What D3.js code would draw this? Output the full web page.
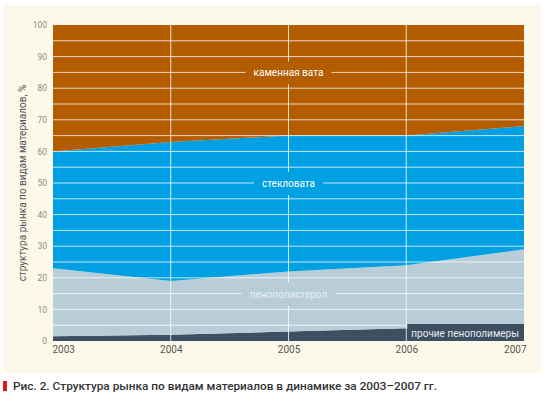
<!DOCTYPE html>
<html><head><meta charset="utf-8">
<script src="https://cdn.jsdelivr.net/npm/d3@7"></script>
<style>body{margin:0;background:#fff}</style></head>
<body><svg id="c" width="547" height="400"></svg>
<script>
const years = [2003, 2004, 2005, 2006, 2007];
const other = [1.5, 2, 3, 4, 4];
const eps = [21.5, 17, 19, 20, 25];
const glass = [37, 44, 43, 41, 39];
const stone = [40, 37, 35, 35, 32];
const seriesNames = ["прочие пенополимеры", "пенополистерол", "стекловата", "каменная вата"];
const yTicks = d3.range(0, 101, 10);

const svg = d3.select("#c");
svg.append("rect").attr("x", 3).attr("y", 5).attr("width", 538).attr("height", 368).attr("fill", "#fdf9ea");
const x = d3.scaleLinear().domain([2003, 2007]).range([53, 524]);
const y = d3.scaleLinear().domain([0, 100]).range([341, 25]);
const rows = years.map((yr, i) => ({yr, other: other[i], eps: eps[i], glass: glass[i], stone: stone[i]}));
const stack = d3.stack().keys(["other", "eps", "glass", "stone"])(rows);
const colors = ["#3d4f60", "#b8cdd8", "#00a0e2", "#b35c00"];
const area = d3.area().x(d => x(d.data.yr)).y0(d => y(d[0])).y1(d => y(d[1]));
svg.selectAll("path.a").data(stack).enter().append("path").attr("d", area).attr("fill", (d, i) => colors[i]);

// gridlines
const g = svg.append("g");
d3.range(5, 100, 5).forEach(v => g.append("line").attr("x1", 53).attr("x2", 524).attr("y1", y(v)).attr("y2", y(v)).attr("stroke", "#fff").attr("stroke-opacity", 0.75).attr("stroke-width", 1));
[2004, 2005, 2006].forEach(v => g.append("line").attr("x1", x(v)).attr("x2", x(v)).attr("y1", y(100)).attr("y2", y(0)).attr("stroke", "#fff").attr("stroke-opacity", 0.8).attr("stroke-width", 1));

// labels with background boxes
const labs = [[3, 85, "каменная вата", "#fff"], [2, 50, "стекловата", "#fff"], [1, 15, "пенополистерол", "#e8eef2"]];
labs.forEach(([ci, v, t, col]) => {
  const tx = svg.append("text").attr("x", x(2005)).attr("y", y(v) + 4).attr("text-anchor", "middle")
    .attr("font-family", "Roboto, sans-serif").attr("font-size", 10).attr("fill", col).text(t);
  const bb = tx.node().getBBox();
  svg.insert("rect", () => tx.node()).attr("x", bb.x - 8).attr("y", bb.y - 6).attr("width", bb.width + 16).attr("height", bb.height + 12).attr("fill", colors[ci]);
});
// other label box
const ot = svg.append("text").attr("x", 519).attr("y", y(0) - 4).attr("text-anchor", "end")
  .attr("font-family", "Roboto, sans-serif").attr("font-size", 10).attr("fill", "#e6ecf0").text(seriesNames[0]);
const obb = ot.node().getBBox();
svg.insert("rect", () => ot.node()).attr("x", x(2006) + 1).attr("y", y(0) - 17).attr("width", x(2007) - x(2006) - 1).attr("height", 17).attr("fill", colors[0]);

// axes
const yAx = svg.append("g").attr("transform", "translate(47,0)")
  .call(d3.axisLeft(y).tickValues(yTicks).tickSize(0).tickPadding(0));
yAx.select(".domain").remove();
yAx.selectAll("text").attr("font-family", "Roboto, sans-serif").attr("font-size", 8.5).attr("fill", "#8a8a8a");
const xAx = svg.append("g").attr("transform", "translate(0,346)")
  .call(d3.axisBottom(x).tickValues(years).tickFormat(d3.format("d")).tickSize(0).tickPadding(0));
xAx.select(".domain").remove();
xAx.selectAll("text").attr("font-family", "Roboto, sans-serif").attr("font-size", 10).attr("fill", "#555").attr("dy", "0.71em")
  .attr("text-anchor", (d, i) => i === 0 ? "start" : i === 4 ? "end" : "middle");
xAx.selectAll("text").filter((d, i) => i === 0).attr("x", -1);
xAx.selectAll("text").filter((d, i) => i === 4).attr("x", 2);

svg.append("text").attr("transform", "translate(26,183) rotate(-90)").attr("text-anchor", "middle")
  .attr("font-family", "Roboto, sans-serif").attr("font-size", 10).attr("fill", "#555")
  .text("структура рынка по видам материалов, %");

svg.append("rect").attr("x", 3).attr("y", 381).attr("width", 4).attr("height", 10).attr("fill", "#e0141c");
svg.append("text").attr("x", 13).attr("y", 390).attr("font-family", "Roboto, sans-serif").attr("font-size", 11.5)
  .attr("font-weight", 500).attr("fill", "#333").attr("textLength", 424).attr("lengthAdjust", "spacingAndGlyphs")
  .text("Рис. 2. Структура рынка по видам материалов в динамике за 2003–2007 гг.");
</script></body></html>
